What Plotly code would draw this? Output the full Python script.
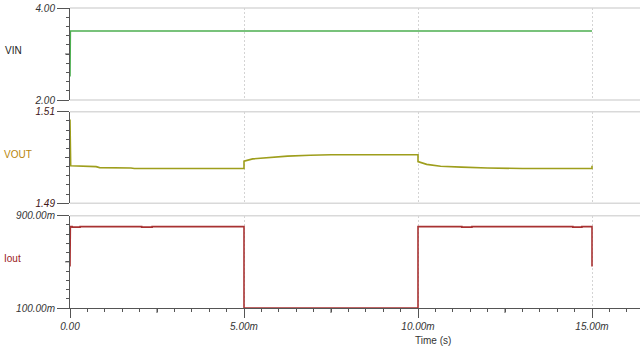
import plotly.graph_objects as go
from plotly.subplots import make_subplots

# ---- data (time in ms) ----
vin_t = [0.0, 0.01, 15.0]
vin_v = [2.51, 3.5, 3.5]

vout_t = [0.0, 0.02, 0.75, 0.85, 1.75, 1.85, 5.0, 5.0, 5.25, 5.65, 6.25, 6.9, 7.5,
          10.0, 10.0, 10.25, 10.65, 11.25, 12.0, 13.0, 15.0, 15.0]
vout_v = [1.5083, 1.4982, 1.4980, 1.4978, 1.4977, 1.4976, 1.4976, 1.4992, 1.4997,
          1.5000, 1.5003, 1.5005, 1.5006, 1.5006, 1.4991, 1.4985, 1.4981, 1.4979,
          1.4977, 1.4976, 1.4976, 1.4982]

iout_t = [0.0, 0.01, 0.06, 0.06, 0.29, 0.29, 2.06, 2.06, 2.36, 2.36, 5.0, 5.0,
          10.0, 10.0, 11.26, 11.26, 11.55, 11.55, 14.45, 14.45, 14.71, 14.71, 15.0, 15.0]
iout_v = [460, 805, 805, 801, 801, 805, 805, 801, 801, 805, 805, 100,
          100, 805, 805, 801, 801, 805, 805, 801, 801, 805, 805, 460]

x_ticks = [0, 5, 10, 15]
x_labels = ["0.00", "5.00m", "10.00m", "15.00m"]
vin_ticks, vin_labels = [2, 4], ["2.00", "4.00"]
vout_ticks, vout_labels = [1.49, 1.51], ["1.49", "1.51"]
iout_ticks, iout_labels = [100, 900], ["100.00m", "900.00m"]

W, H = 640, 347
L, R, T, B = 70, 0, 8, 39
PW, PH = W - L - R, H - T - B
XMAX = (W - L) / 174 * 5

def py(y):  # pixel y -> paper fraction
    return (H - B - y) / PH

fig = make_subplots(rows=3, cols=1, shared_xaxes=True)

fig.add_trace(go.Scatter(x=vin_t, y=vin_v, mode="lines",
                         line=dict(color="#4caf50", width=1.6)), row=1, col=1)
fig.add_trace(go.Scatter(x=vout_t, y=vout_v, mode="lines",
                         line=dict(color="#9e9e1c", width=1.6)), row=2, col=1)
fig.add_trace(go.Scatter(x=iout_t, y=iout_v, mode="lines",
                         line=dict(color="#a83232", width=1.6)), row=3, col=1)

tickfont = dict(family="Liberation Sans, Arial", size=10, color="#333333")
axcol = "#555555"
grid = dict(showgrid=True, gridcolor="#d4d4d4", gridwidth=1, griddash="2px,2px")

for i, xa in enumerate(["xaxis", "xaxis2", "xaxis3"]):
    bottom = (i == 2)
    fig.layout[xa].update(
        range=[0, XMAX], tickvals=x_ticks, ticktext=x_labels,
        showticklabels=bottom, ticks="outside" if bottom else "",
        ticklen=9, tickcolor=axcol, tickwidth=1,
        showline=bottom, linecolor=axcol, linewidth=1,
        zeroline=False, tickfont=dict(tickfont, color="#333333"),
        **grid,
    )
fig.layout.xaxis3.update(minor=dict(tick0=0, dtick=0.5, ticks="outside", ticklen=3,
                                    tickcolor=axcol, showgrid=False))

ydoms = [[py(100), py(8)], [py(203.3), py(111.7)], [py(308.3), py(215.7)]]
yspecs = [
    ([2, 4], vin_ticks, vin_labels, 2, 0.2, "#333333"),
    ([1.49, 1.51], vout_ticks, vout_labels, 1.49, 0.002, "#401414"),
    ([100, 900], iout_ticks, iout_labels, 100, 80, "#333333"),
]
for i, ya in enumerate(["yaxis", "yaxis2", "yaxis3"]):
    rng, tv, tt, t0, dt, col = yspecs[i]
    fig.layout[ya].update(
        domain=[max(0, ydoms[i][0]), min(1, ydoms[i][1])], range=rng,
        tickvals=tv, ticktext=tt, ticks="outside", ticklen=12, tickcolor=axcol,
        showline=True, linecolor=axcol, linewidth=1, showgrid=False, zeroline=False,
        tickfont=dict(tickfont, color=col),
        minor=dict(tick0=t0, dtick=dt, ticks="outside", ticklen=3,
                   tickcolor=axcol, showgrid=False),
    )

shapes = []
# light frame lines at panel top/bottom
for yr, sides in [("y", [0, 1]), ("y2", [0, 1]), ("y3", [1])]:
    for s in sides:
        shapes.append(dict(type="line", xref="paper", x0=0, x1=1,
                           yref=yr + " domain", y0=s, y1=s,
                           line=dict(color="#d9d9d9", width=1.5), layer="below"))
# medium ticks at mid values
for yr, mid in [("y", 3.0), ("y2", 1.50), ("y3", 500)]:
    shapes.append(dict(type="line", xref="paper", x0=-5 / PW, x1=0, yref=yr,
                       y0=mid, y1=mid, line=dict(color=axcol, width=1)))
for xm in [2.5, 7.5, 12.5]:
    shapes.append(dict(type="line", xref="x3", x0=xm, x1=xm, yref="paper",
                       y0=0, y1=-5 / PH, line=dict(color=axcol, width=1)))
fig.update_layout(shapes=shapes)

lab = dict(family="Liberation Sans, Arial", size=10)
ann = [
    dict(text="VIN", x=(3 - L) / PW, y=py(51), font=dict(lab, color="#222222")),
    dict(text="VOUT", x=(2 - L) / PW, y=py(154), font=dict(lab, color="#b8860b")),
    dict(text="Iout", x=(2 - L) / PW, y=py(258), font=dict(lab, color="#9b1b1b")),
]
for a in ann:
    a.update(xref="paper", yref="paper", xanchor="left", yanchor="middle", showarrow=False)
ann.append(dict(text="Time (s)", xref="paper", yref="paper", x=(433 - L) / PW, y=py(340),
                xanchor="center", yanchor="middle", showarrow=False,
                font=dict(lab, color="#333333")))
fig.update_layout(annotations=ann)

fig.update_layout(
    width=W, height=H, margin=dict(l=L, r=R, t=T, b=B),
    paper_bgcolor="white", plot_bgcolor="white", showlegend=False,
    font=dict(family="Liberation Sans, Arial"),
)
for ya in ["yaxis", "yaxis2", "yaxis3"]:
    fig.layout[ya].tickfont.update(style="italic")
fig.layout.xaxis3.tickfont.update(style="italic")

fig.write_html("out.html")
